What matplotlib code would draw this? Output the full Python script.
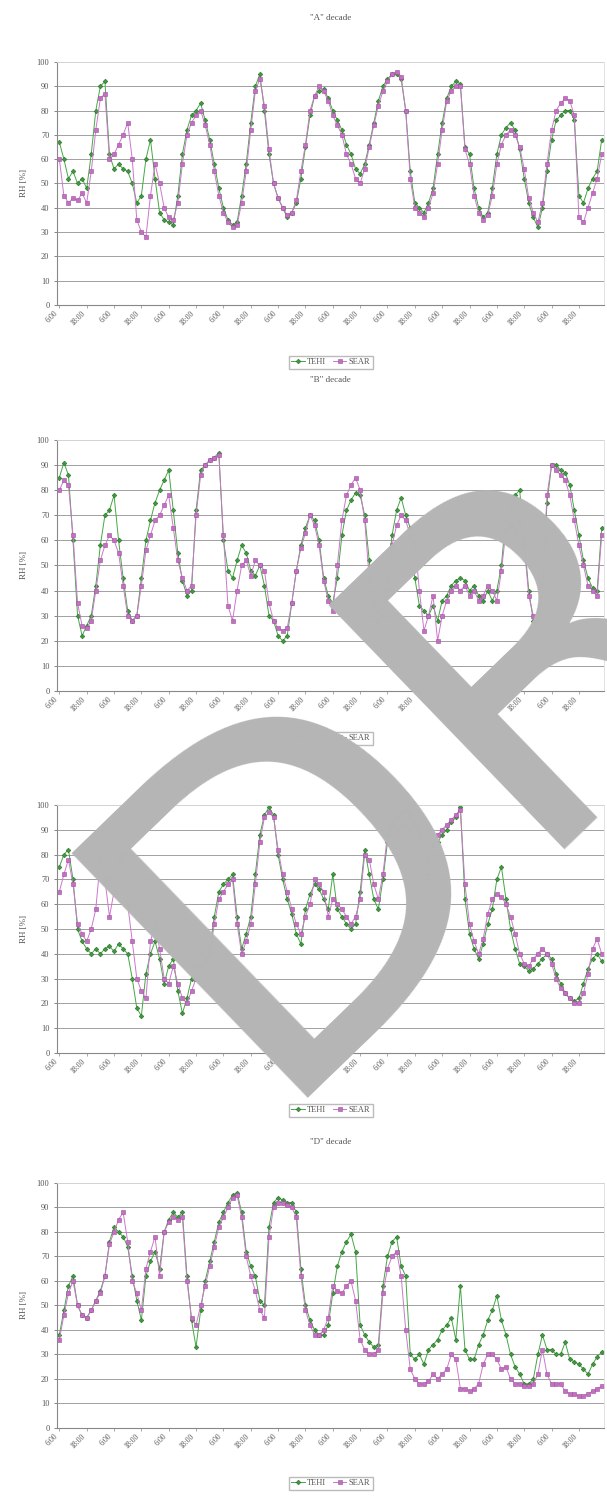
import matplotlib
matplotlib.use("Agg")
import matplotlib.pyplot as plt
import numpy as np

# relative humidity, 2-hourly readings over each 10-day decade (120 points)
teh_a = [67, 60, 52, 55, 50, 52, 48, 62, 80, 90, 92, 62,
         56, 58, 56, 55, 50, 42, 45, 60, 68, 52, 38, 35,
         34, 33, 45, 62, 72, 78, 80, 83, 76, 68, 58, 48,
         40, 35, 33, 34, 45, 58, 75, 90, 95, 80, 62, 50,
         44, 40, 36, 38, 42, 52, 65, 78, 86, 88, 89, 85,
         80, 76, 72, 66, 62, 56, 54, 58, 66, 75, 84, 90,
         93, 95, 95, 93, 80, 55, 42, 40, 38, 42, 48, 62,
         75, 85, 90, 92, 91, 65, 62, 48, 40, 36, 38, 48,
         62, 70, 73, 75, 72, 64, 52, 42, 36, 32, 40, 55,
         68, 76, 78, 80, 80, 76, 45, 42, 48, 52, 55, 68]
sear_a = [60, 45, 42, 44, 43, 46, 42, 55, 72, 85, 87, 60,
          62, 66, 70, 75, 60, 35, 30, 28, 45, 58, 50, 40,
          36, 35, 42, 58, 70, 75, 78, 80, 74, 66, 55, 45,
          38, 34, 32, 33, 42, 55, 72, 88, 93, 82, 64, 50,
          44, 40, 37, 38, 43, 55, 66, 80, 86, 90, 88, 84,
          78, 74, 70, 62, 58, 52, 50, 56, 65, 74, 82, 88,
          92, 95, 96, 94, 80, 52, 40, 38, 36, 40, 46, 58,
          72, 84, 88, 90, 90, 64, 58, 45, 38, 35, 37, 45,
          58, 66, 70, 72, 70, 65, 56, 44, 38, 34, 42, 58,
          72, 80, 83, 85, 84, 78, 36, 34, 40, 46, 52, 62]

teh_b = [85, 91, 86, 60, 30, 22, 26, 30, 42, 58, 70, 72,
         78, 60, 45, 32, 28, 30, 45, 60, 68, 75, 80, 84,
         88, 72, 55, 44, 38, 40, 72, 88, 90, 92, 93, 95,
         60, 48, 45, 52, 58, 55, 48, 46, 50, 42, 30, 28,
         22, 20, 22, 35, 48, 58, 65, 70, 68, 60, 45, 38,
         35, 45, 62, 72, 76, 79, 78, 70, 52, 35, 32, 33,
         45, 62, 72, 77, 70, 65, 45, 34, 32, 30, 34, 28,
         36, 38, 42, 44, 45, 44, 40, 42, 38, 36, 40, 36,
         40, 50, 70, 72, 78, 80, 60, 40, 28, 25, 40, 75,
         90, 90, 88, 87, 82, 72, 62, 52, 45, 41, 40, 65]
sear_b = [80, 84, 82, 62, 35, 26, 25, 28, 40, 52, 58, 62,
          60, 55, 42, 30, 28, 30, 42, 56, 62, 68, 70, 74,
          78, 65, 52, 45, 40, 42, 70, 86, 90, 92, 93, 94,
          62, 34, 28, 40, 50, 52, 46, 52, 50, 48, 35, 28,
          25, 24, 25, 35, 48, 57, 63, 70, 66, 58, 44, 36,
          32, 50, 68, 78, 82, 85, 80, 68, 45, 30, 28, 30,
          44, 58, 66, 70, 68, 62, 60, 40, 24, 30, 38, 20,
          30, 36, 40, 42, 40, 42, 38, 40, 36, 38, 42, 40,
          36, 48, 64, 66, 62, 68, 58, 38, 30, 28, 42, 78,
          90, 88, 86, 84, 78, 68, 58, 50, 42, 40, 38, 62]

teh_c = [75, 80, 82, 70, 50, 45, 42, 40, 42, 40, 42, 43,
         41, 44, 42, 40, 30, 18, 15, 32, 40, 45, 38, 28,
         35, 38, 25, 16, 22, 30, 35, 40, 36, 42, 55, 65,
         68, 70, 72, 55, 42, 48, 55, 72, 88, 96, 99, 96,
         80, 70, 62, 56, 48, 44, 58, 64, 68, 66, 62, 58,
         72, 58, 55, 52, 50, 52, 65, 82, 72, 62, 58, 70,
         85, 88, 90, 92, 92, 90, 86, 82, 76, 72, 80, 85,
         88, 90, 93, 95, 99, 62, 48, 42, 38, 44, 52, 58,
         70, 75, 62, 50, 42, 36, 35, 33, 34, 36, 38, 40,
         38, 32, 28, 24, 22, 21, 22, 28, 34, 38, 40, 37]
sear_c = [65, 72, 78, 68, 52, 48, 45, 50, 58, 78, 70, 55,
          65, 78, 80, 60, 45, 30, 25, 22, 45, 52, 42, 30,
          28, 35, 28, 22, 20, 25, 30, 35, 38, 40, 52, 62,
          65, 68, 70, 52, 40, 45, 52, 68, 85, 95, 97, 95,
          82, 72, 65, 58, 52, 48, 55, 60, 70, 68, 65, 55,
          62, 60, 58, 55, 52, 55, 62, 80, 78, 68, 62, 72,
          88, 92, 95, 97, 98, 96, 92, 88, 82, 78, 84, 88,
          90, 92, 94, 96, 98, 68, 52, 45, 40, 46, 56, 62,
          64, 63, 60, 55, 48, 40, 36, 35, 38, 40, 42, 40,
          36, 30, 26, 24, 22, 20, 20, 24, 32, 42, 46, 40]

teh_d = [38, 48, 58, 62, 50, 46, 45, 48, 52, 56, 62, 76,
         82, 80, 78, 74, 62, 52, 44, 62, 68, 72, 65, 80,
         85, 88, 86, 88, 62, 44, 33, 48, 60, 68, 76, 84,
         88, 92, 95, 96, 88, 72, 66, 62, 52, 50, 82, 92,
         94, 93, 92, 92, 88, 65, 50, 44, 40, 38, 38, 42,
         55, 66, 72, 76, 79, 72, 42, 38, 35, 33, 34, 58,
         70, 76, 78, 66, 62, 30, 28, 30, 26, 32, 34, 36,
         40, 42, 45, 36, 58, 32, 28, 28, 34, 38, 44, 48,
         54, 44, 38, 30, 25, 22, 18, 18, 20, 30, 38, 32,
         32, 30, 30, 35, 28, 27, 26, 24, 22, 26, 29, 31]
sear_d = [36, 46, 55, 60, 50, 46, 45, 48, 52, 55, 62, 75,
          80, 85, 88, 76, 60, 55, 48, 65, 72, 78, 62, 80,
          84, 86, 85, 86, 60, 45, 42, 50, 58, 66, 74, 82,
          86, 90, 94, 95, 86, 70, 62, 56, 48, 45, 78, 90,
          92, 92, 91, 90, 86, 62, 48, 42, 38, 38, 40, 45,
          58, 56, 55, 58, 60, 52, 36, 32, 30, 30, 32, 55,
          65, 70, 72, 62, 40, 24, 20, 18, 18, 19, 22, 20,
          22, 24, 30, 28, 16, 16, 15, 16, 18, 26, 30, 30,
          28, 24, 25, 20, 18, 18, 17, 17, 18, 22, 32, 22,
          18, 18, 18, 15, 14, 14, 13, 13, 14, 15, 16, 17]

titles = ['"A" decade', '"B" decade', '"C" decade', '"D" decade']
tick_labels = ["6:00", "18:00"] * 10
series_names = ["TEHI", "SEAR"]

plt.rcParams['font.family'] = ['Liberation Serif', 'DejaVu Serif']
txt = '#555555'

fig = plt.figure(figsize=(6.07, 14.97), dpi=100)

# axes rectangles in figure fractions, one per decade
boxes = [(0.094, 0.7963, 0.901, 0.1623),
         (0.094, 0.5384, 0.901, 0.1677),
         (0.094, 0.2966, 0.901, 0.1657),
         (0.094, 0.0461, 0.901, 0.1637)]
title_y = [1 - 18 / 1497, 1 - 380 / 1497, 1 - 748 / 1497, 1 - 1142 / 1497]
legend_y = [1 - 362 / 1497, 1 - 738 / 1497, 1 - 1110 / 1497, 1 - 1483 / 1497]
data = [(teh_a, sear_a), (teh_b, sear_b), (teh_c, sear_c), (teh_d, sear_d)]

for k in range(4):
    ax = fig.add_axes(boxes[k])
    teh, sear = data[k]
    x = np.arange(len(teh))
    l1, = ax.plot(x, teh, color='#44a844', lw=0.7, marker='D', ms=2.4,
                  mfc='#3c9a3c', mec='#2d6e2d', mew=0.4)
    l2, = ax.plot(x, sear, color='#cc77cc', lw=0.7, marker='s', ms=2.2,
                  mfc='#c46ec4', mec='#9a4f9a', mew=0.4)
    ax.set_xlim(-0.5, 119.5)
    ax.set_ylim(0, 100)
    ax.set_yticks(range(0, 101, 10))
    ax.set_xticks(range(0, 120, 6))
    ax.set_xticklabels(tick_labels, rotation=45, ha='right', fontsize=5.5,
                       color=txt)
    ax.tick_params(axis='y', labelsize=6, colors=txt, length=2, width=0.5)
    ax.tick_params(axis='x', length=2, width=0.5, colors='#888888',
                   pad=1)
    for lab in ax.get_xticklabels():
        lab.set_color(txt)
    ax.grid(axis='y', color='#a0a0a0', lw=0.7)
    ax.set_axisbelow(True)
    for side in ['left', 'bottom']:
        ax.spines[side].set_color('#888888')
        ax.spines[side].set_linewidth(0.8)
    for side in ['top', 'right']:
        ax.spines[side].set_color('#dddddd')
        ax.spines[side].set_linewidth(0.6)
    ax.set_ylabel('RH [%]', fontsize=6.5, color=txt, labelpad=6)
    fig.text(0.545, title_y[k], titles[k], ha='center', va='center',
             fontsize=6.5, color=txt)
    fig.legend([l1, l2], series_names, loc='center',
               bbox_to_anchor=(0.545, legend_y[k]), ncol=2, fontsize=6,
               frameon=True, fancybox=False, edgecolor='#aaaaaa',
               handlelength=1.6, handletextpad=0.3, columnspacing=0.8,
               borderpad=0.3, labelcolor=txt)

# grey watermark over the charts
fig.text(262 / 607, 1 - 1098 / 1497, "DRAFT", rotation=44,
         rotation_mode='anchor', ha='left', va='baseline',
         fontsize=335, color='#b5b5b5', family='DejaVu Sans',
         zorder=10)

fig.savefig('out.png', dpi=100)
